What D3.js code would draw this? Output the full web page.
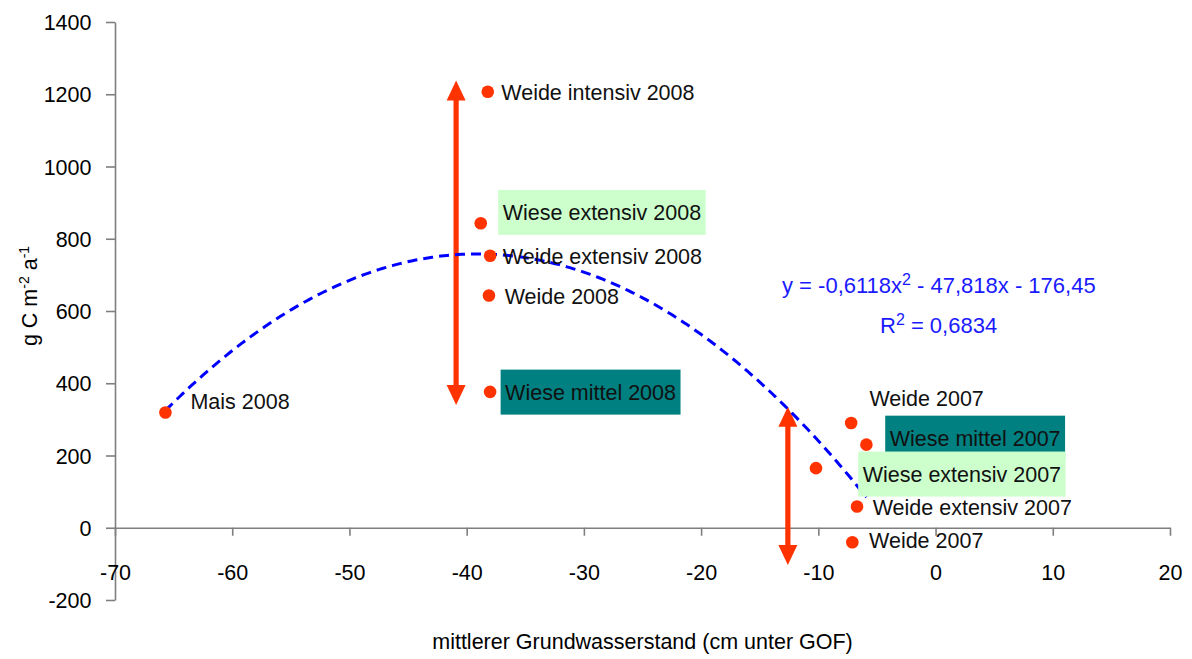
<!DOCTYPE html>
<html>
<head>
<meta charset="utf-8">
<script src="https://cdn.jsdelivr.net/npm/d3@7/dist/d3.min.js"></script>
<style>
  html, body { margin: 0; padding: 0; background: #fff; }
  svg { display: block; font-family: "Liberation Sans", Arial, sans-serif; }
</style>
</head>
<body>
<div id="chart"></div>
<script>
// Site-year observations: mean groundwater level (cm below surface) vs. carbon balance
const siteLabels = [
  "Mais 2008", "Weide intensiv 2008", "Wiese extensiv 2008", "Weide extensiv 2008",
  "Weide 2008", "Wiese mittel 2008", "Weide 2007", "Wiese mittel 2007",
  "Wiese extensiv 2007", "Weide extensiv 2007", "Weide 2007"
];
const waterLevel = [-65.7, -38.2, -38.8, -38.0, -38.1, -38.0, -7.2, -5.9, -10.2, -6.7, -7.1];
const carbon     = [319, 1207, 843, 753, 643, 376, 290, 230, 165, 59, -40];

// Polynomial fit (2nd order) shown on the chart
const fitCoef = [-0.6118, -47.818, -176.45];
const fitR2 = "0,6834";

// Axis ticks
const xTicks = [-70, -60, -50, -40, -30, -20, -10, 0, 10, 20];
const yTicks = [-200, 0, 200, 400, 600, 800, 1000, 1200, 1400];

// Range arrows (x position, from, to)
const rangeArrows = [
  { x: -40.9, from: 1238, to: 340 },
  { x: -12.6, from: 335, to: -103 }
];

// Label placement relative to each point, and highlight style
const labelLayout = [
  { dx: 25, dy: -4, box: null },
  { dx: 13.5, dy: 8.3, box: null },
  { dx: 22, dy: -3.3, box: "#ccffcc" },
  { dx: 12.7, dy: 8.3, box: null },
  { dx: 15.7, dy: 8.3, box: null },
  { dx: 15, dy: 7.7, box: "#008080" },
  { dx: 18.3, dy: -17.3, box: null },
  { dx: 23.3, dy: 1, box: "#008080" },
  { dx: 46.7, dy: 13.4, box: "#ccffcc" },
  { dx: 15.7, dy: 8.3, box: null },
  { dx: 16.7, dy: 5.7, box: null }
];

const W = 1192, H = 659;
const FS = 21.5;
const RED = "#ff3300";
const AXIS = "#7f7f7f";
const fmt = d => (d < 0 ? "-" : "") + Math.abs(d);

const svg = d3.select("#chart").append("svg")
  .attr("width", W).attr("height", H);

const x = d3.scaleLinear().domain([-70, 20]).range([115, 1170]);
const y = d3.scaleLinear().domain([-200, 1400]).range([600, 22]);

// y axis
const yAxis = svg.append("g")
  .attr("transform", `translate(${x(-70)},0)`)
  .call(d3.axisLeft(y).tickValues(yTicks).tickSize(9).tickSizeOuter(0).tickFormat(fmt));
yAxis.select(".domain").attr("stroke", AXIS).attr("stroke-width", 1.6);
yAxis.selectAll(".tick line").attr("stroke", AXIS).attr("stroke-width", 1.6);
yAxis.selectAll(".tick text")
  .attr("x", -23.5).attr("dy", "0.35em")
  .attr("fill", "#000").style("font-size", FS + "px").style("font-family", "Liberation Sans, Arial, sans-serif");

// x axis crossing at y = 0
const xAxis = svg.append("g")
  .attr("transform", `translate(0,${y(0)})`)
  .call(d3.axisBottom(x).tickValues(xTicks).tickSize(8).tickSizeOuter(0).tickFormat(fmt));
xAxis.select(".domain").attr("stroke", AXIS).attr("stroke-width", 1.6);
xAxis.selectAll(".tick line").attr("stroke", AXIS).attr("stroke-width", 1.6);
xAxis.selectAll(".tick text")
  .attr("y", 52).attr("dy", 0)
  .attr("fill", "#000").style("font-size", FS + "px").style("font-family", "Liberation Sans, Arial, sans-serif");

// axis titles
svg.append("text")
  .attr("x", (x(-70) + x(20)) / 2).attr("y", 649)
  .attr("text-anchor", "middle")
  .style("font-size", FS + "px")
  .text("mittlerer Grundwasserstand (cm unter GOF)");

const yTitle = svg.append("text")
  .attr("transform", "translate(37,296) rotate(-90)")
  .attr("text-anchor", "middle")
  .style("font-size", FS + "px");
yTitle.append("tspan").text("g C m");
yTitle.append("tspan").attr("baseline-shift", "super").style("font-size", "14px").text("-2");
yTitle.append("tspan").text(" a");
yTitle.append("tspan").attr("baseline-shift", "super").style("font-size", "14px").text("-1");

// range arrows
function drawArrow(a) {
  const px = x(a.x), yTop = y(a.from), yBot = y(a.to);
  const head = 20, half = 9.5;
  const g = svg.append("g").attr("fill", RED).attr("stroke", "none");
  g.append("rect").attr("x", px - 2.6).attr("y", yTop + head - 1)
    .attr("width", 5.2).attr("height", yBot - yTop - 2 * head + 2);
  g.append("path").attr("d", `M${px},${yTop} L${px + half},${yTop + head} L${px - half},${yTop + head} Z`);
  g.append("path").attr("d", `M${px},${yBot} L${px + half},${yBot - head} L${px - half},${yBot - head} Z`);
}
rangeArrows.forEach(drawArrow);

// fitted curve across the observed range
const fit = v => fitCoef[0] * v * v + fitCoef[1] * v + fitCoef[2];
const xMin = d3.min(waterLevel), xMax = d3.max(waterLevel);
const curveX = d3.range(xMin, xMax, 0.25).concat([xMax]);
svg.append("path")
  .datum(curveX)
  .attr("fill", "none")
  .attr("stroke", "#0000ff")
  .attr("stroke-width", 3)
  .attr("stroke-dasharray", "10,6")
  .attr("d", d3.line().x(d => x(d)).y(d => y(fit(d))));

// points
const pts = siteLabels.map((label, i) => ({ label, gw: waterLevel[i], c: carbon[i], ...labelLayout[i] }));
svg.append("g").selectAll("circle")
  .data(pts).join("circle")
  .attr("cx", d => x(d.gw)).attr("cy", d => y(d.c))
  .attr("r", 6.3).attr("fill", RED);

// point labels (highlighted ones get a background box)
const lg = svg.append("g");
pts.forEach(d => {
  const tx = x(d.gw) + d.dx, ty = y(d.c) + d.dy;
  const grp = lg.append("g");
  const t = grp.append("text")
    .attr("x", tx).attr("y", ty)
    .style("font-size", FS + "px").attr("fill", "#111")
    .text(d.label);
  if (d.box) {
    const bb = t.node().getBBox();
    grp.insert("rect", "text")
      .attr("x", bb.x - 4.5).attr("y", ty - 30)
      .attr("width", bb.width + 9).attr("height", 45)
      .attr("fill", d.box);
  }
});

// equation and R²
const eq = svg.append("text")
  .attr("x", 782).attr("y", 293)
  .attr("fill", "#1a1aff").style("font-size", "22px");
eq.append("tspan").text("y = -0,6118x");
eq.append("tspan").attr("baseline-shift", "super").style("font-size", "16px").text("2");
eq.append("tspan").text(" - 47,818x - 176,45");

const r2 = svg.append("text")
  .attr("x", 880).attr("y", 333)
  .attr("fill", "#1a1aff").style("font-size", "22px");
r2.append("tspan").text("R");
r2.append("tspan").attr("baseline-shift", "super").style("font-size", "16px").text("2");
r2.append("tspan").text(" = " + fitR2);
</script>
</body>
</html>
